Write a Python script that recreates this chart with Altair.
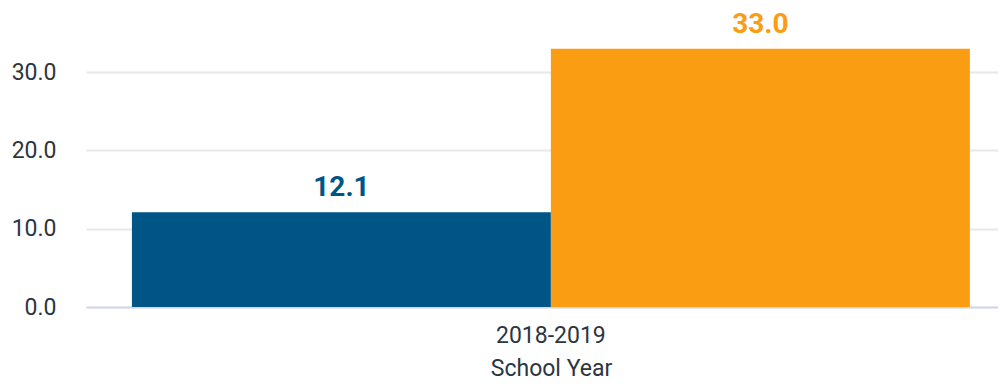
import altair as alt
import pandas as pd

years = ["2018-2019", "2018-2019"]
series = ["Series 1", "Series 2"]
values = [12.1, 33.0]
colors = ["#005587", "#FA9D12"]

df = pd.DataFrame({"year": years, "series": series, "value": values})

base = alt.Chart(df).encode(
    x=alt.X(
        "year:N",
        title="School Year",
        scale=alt.Scale(paddingInner=0, paddingOuter=0.0442, align=0.62),
        axis=alt.Axis(
            labelAngle=0,
            labelFontSize=23,
            labelColor="#2d3640",
            labelFont="Roboto",
            labelPadding=17,
            ticks=False,
            tickSize=0,
            domainColor="#d3d7ee",
            domainWidth=2,
            titleFontSize=23,
            titleFont="Roboto",
            titleFontWeight="normal",
            titleColor="#2d3640",
            titlePadding=10,
            titleX=465,
            titleAlign="center",
            grid=False,
        ),
    ),
    xOffset=alt.XOffset("series:N", scale=alt.Scale(paddingInner=0, paddingOuter=0)),
)

bars = base.mark_bar().encode(
    y=alt.Y(
        "value:Q",
        scale=alt.Scale(domain=[0, 35], nice=False),
        axis=alt.Axis(
            values=[0, 10, 20, 30],
            format=".1f",
            title=None,
            labelFontSize=23,
            labelFont="Roboto",
            labelColor="#2d3640",
            labelPadding=30,
            ticks=False,
            domain=False,
            gridColor="#e8e8e8",
            gridWidth=2,
        ),
    ),
    color=alt.Color("series:N", scale=alt.Scale(domain=series, range=colors), legend=None),
)

labels = base.mark_text(
    font="Roboto", fontSize=28, fontWeight="bold", baseline="alphabetic", dy=-16
).encode(
    y="value:Q",
    text=alt.Text("value:Q", format=".1f"),
    color=alt.Color("series:N", scale=alt.Scale(domain=series, range=colors), legend=None),
)

chart = (
    alt.layer(bars, labels)
    .properties(
        width=912,
        height=274,
        autosize=alt.AutoSizeParams(type="none"),
        padding={"left": 78, "top": 25, "right": 0, "bottom": 72},
    )
    .configure_view(stroke=None)
)

chart.save("out.html", embed_options={"renderer": "svg", "actions": False})
